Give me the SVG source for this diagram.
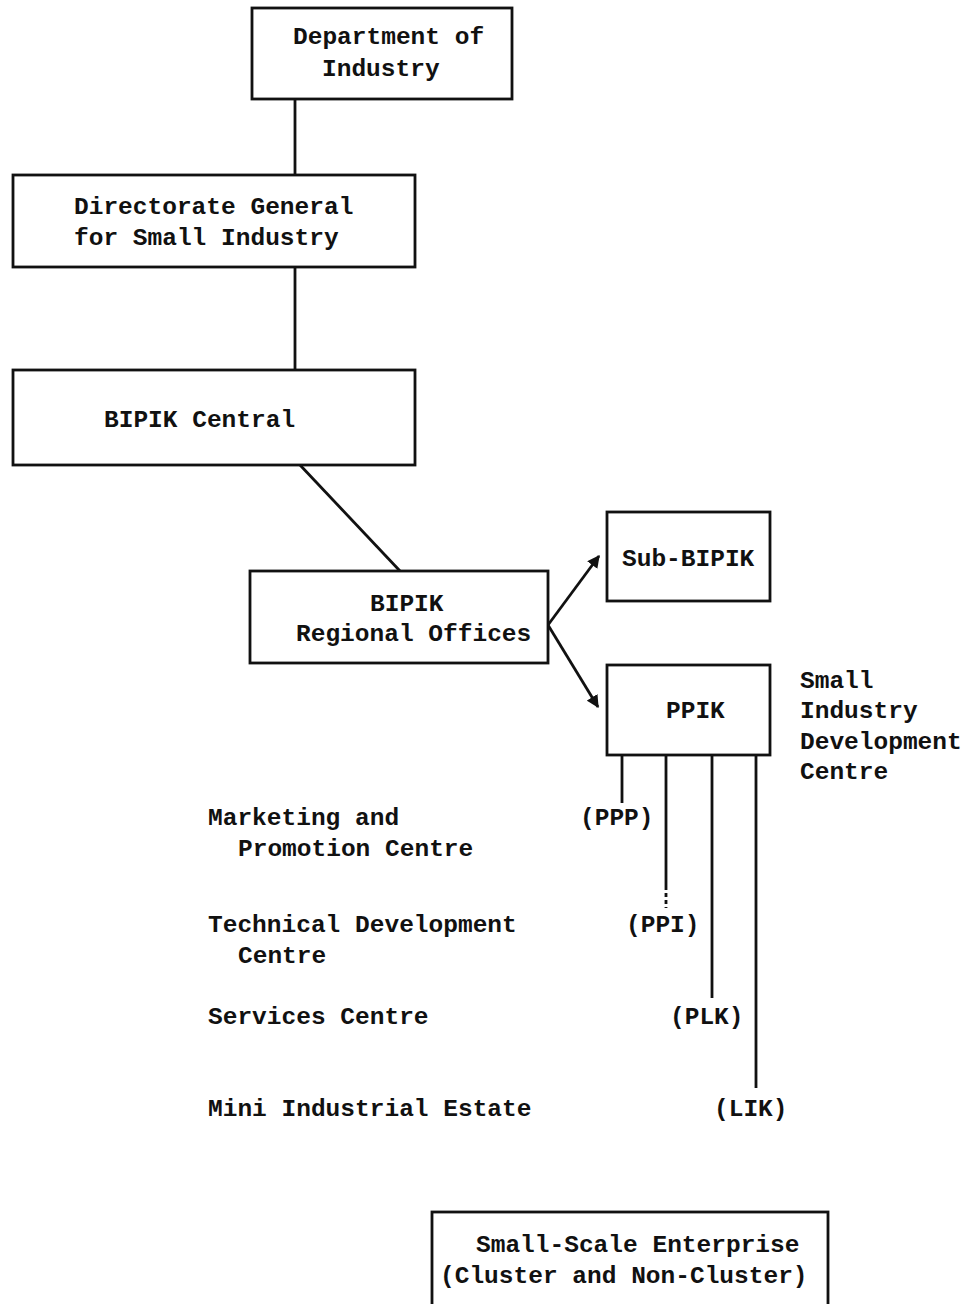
<svg xmlns="http://www.w3.org/2000/svg" width="969" height="1304" viewBox="0 0 969 1304">
<style>
.box{fill:#fff;stroke:#111;stroke-width:2.8}
.ln{fill:none;stroke:#111;stroke-width:2.8}
text{font-family:"Liberation Mono","DejaVu Sans Mono",monospace;font-weight:bold;font-size:24.5px;fill:#111}
</style>
<defs>
<marker id="ah" viewBox="0 0 10 10" refX="9" refY="5" markerWidth="4.5" markerHeight="4.5" orient="auto" markerUnits="strokeWidth">
<path d="M0,0 L10,5 L0,10 z" fill="#111"/>
</marker>
</defs>
<rect width="969" height="1304" fill="#fff"/>
<g id="connectors">
<line class="ln" x1="295" y1="99" x2="295" y2="175"/>
<line class="ln" x1="295" y1="267" x2="295" y2="370"/>
<line class="ln" x1="300" y1="465" x2="400" y2="571"/>
<line class="ln" x1="548" y1="625" x2="599" y2="556" marker-end="url(#ah)"/>
<line class="ln" x1="548" y1="625" x2="598" y2="707" marker-end="url(#ah)"/>
<line class="ln" x1="622" y1="755" x2="622" y2="803"/>
<line class="ln" x1="666" y1="755" x2="666" y2="890"/>
<line class="ln" x1="666" y1="893" x2="666" y2="908" stroke-dasharray="4,3"/>
<line class="ln" x1="712" y1="755" x2="712" y2="998"/>
<line class="ln" x1="756" y1="755" x2="756" y2="1088"/>
</g>
<g id="dept">
<rect class="box" x="252" y="8" width="260" height="91"/>
<text x="293" y="44">Department of</text>
<text x="322" y="76">Industry</text>
</g>
<g id="directorate">
<rect class="box" x="13" y="175" width="402" height="92"/>
<text x="74" y="214">Directorate General</text>
<text x="74" y="245">for Small Industry</text>
</g>
<g id="bipik-central">
<rect class="box" x="13" y="370" width="402" height="95"/>
<text x="104" y="427">BIPIK Central</text>
</g>
<g id="regional">
<rect class="box" x="250" y="571" width="298" height="92"/>
<text x="370" y="611">BIPIK</text>
<text x="296" y="641">Regional Offices</text>
</g>
<g id="sub-bipik">
<rect class="box" x="607" y="512" width="163" height="89"/>
<text x="622" y="566">Sub-BIPIK</text>
</g>
<g id="ppik">
<rect class="box" x="607" y="665" width="163" height="90"/>
<text x="666" y="718">PPIK</text>
<text x="800" y="688">Small</text>
<text x="800" y="718">Industry</text>
<text x="800" y="749">Development</text>
<text x="800" y="779">Centre</text>
</g>
<g id="ppp">
<text x="580" y="825">(PPP)</text>
<text x="208" y="825">Marketing and</text>
<text x="238" y="856">Promotion Centre</text>
</g>
<g id="ppi">
<text x="626" y="932">(PPI)</text>
<text x="208" y="932">Technical Development</text>
<text x="238" y="963">Centre</text>
</g>
<g id="plk">
<text x="670" y="1024">(PLK)</text>
<text x="208" y="1024">Services Centre</text>
</g>
<g id="lik">
<text x="714" y="1116">(LIK)</text>
<text x="208" y="1116">Mini Industrial Estate</text>
</g>
<g id="sse">
<rect class="box" x="432" y="1212" width="396" height="100"/>
<text x="476" y="1252">Small-Scale Enterprise</text>
<text x="440" y="1283">(Cluster and Non-Cluster)</text>
</g>
</svg>
